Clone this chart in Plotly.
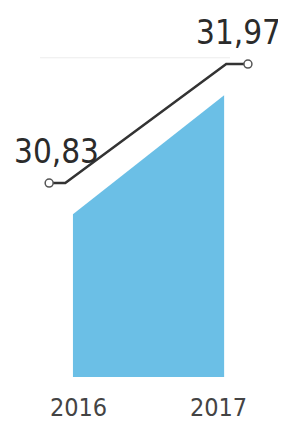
import plotly.graph_objects as go

# ---- data ----
years = ["2016", "2017"]
values = [30.83, 31.97]
value_labels = ["30,83", "31,97"]

# ---- style constants ----
AREA_COLOR = "#6bbfe6"
LINE_COLOR = "#333333"
AREA_GAP = 0.30          # area sits a bit below the line (value units)
AREA_PAD = 0.04          # area extends slightly beyond category positions
LINE_FLAT = 0.115        # flat lead-in of the line after left marker
MARK_PAD = 0.21          # markers sit outside the categories
LABEL_FONT = "DejaVu Sans Condensed, Liberation Sans, sans-serif"

xpos = list(range(len(years)))

fig = go.Figure()

# blue area
ax = [xpos[0] - AREA_PAD, xpos[-1] + AREA_PAD]
ay = [values[0] - AREA_GAP, values[-1] - AREA_GAP]
fig.add_trace(go.Scatter(
    x=ax, y=ay, mode="lines", fill="tozeroy",
    fillcolor=AREA_COLOR, line=dict(width=0, color=AREA_COLOR),
    hoverinfo="skip", showlegend=False))

# connector line
lx = [xpos[0] - MARK_PAD, xpos[0] - MARK_PAD + LINE_FLAT,
      xpos[-1] + MARK_PAD - 0.155, xpos[-1] + MARK_PAD]
ly = [values[0], values[0], values[-1], values[-1]]
fig.add_trace(go.Scatter(
    x=lx, y=ly, mode="lines", line=dict(color=LINE_COLOR, width=2.5),
    hoverinfo="skip", showlegend=False))

# end markers
mx = [xpos[0] - MARK_PAD, xpos[-1] + MARK_PAD]
fig.add_trace(go.Scatter(
    x=mx, y=values, mode="markers",
    marker=dict(size=8, color="white", line=dict(color="#555555", width=1.5)),
    hoverinfo="skip", showlegend=False))

# value labels
anchors = ["left", "right"]
xshifts = [-37, 35]
for x, v, t, a, xs in zip(mx, values, value_labels, anchors, xshifts):
    fig.add_annotation(x=x, y=v, text=t, showarrow=False,
                       xanchor=a, yanchor="bottom", yshift=10, xshift=xs,
                       font=dict(family=LABEL_FONT, size=33, color="#2b2b2b"))

# faint grid line
fig.add_shape(type="line", xref="x", yref="y", x0=-0.275, x1=1.082, y0=32.03, y1=32.03,
              line=dict(color="#ececec", width=1), layer="below")

fig.update_layout(
    width=278, height=420,
    margin=dict(l=0, r=0, t=20, b=51),
    paper_bgcolor="white", plot_bgcolor="white",
    showlegend=False,
    xaxis=dict(range=[-0.504, 1.482], tickvals=xpos, ticktext=years,
               showgrid=False, zeroline=False, showline=False,
               ticks="outside", ticklen=8, tickcolor="rgba(0,0,0,0)",
               tickfont=dict(family=LABEL_FONT, size=25, color="#444444")),
    yaxis=dict(range=[28.972, 32.315], showgrid=False, zeroline=False,
               showline=False, showticklabels=False, ticks=""),
)

fig.write_html("out.html")
